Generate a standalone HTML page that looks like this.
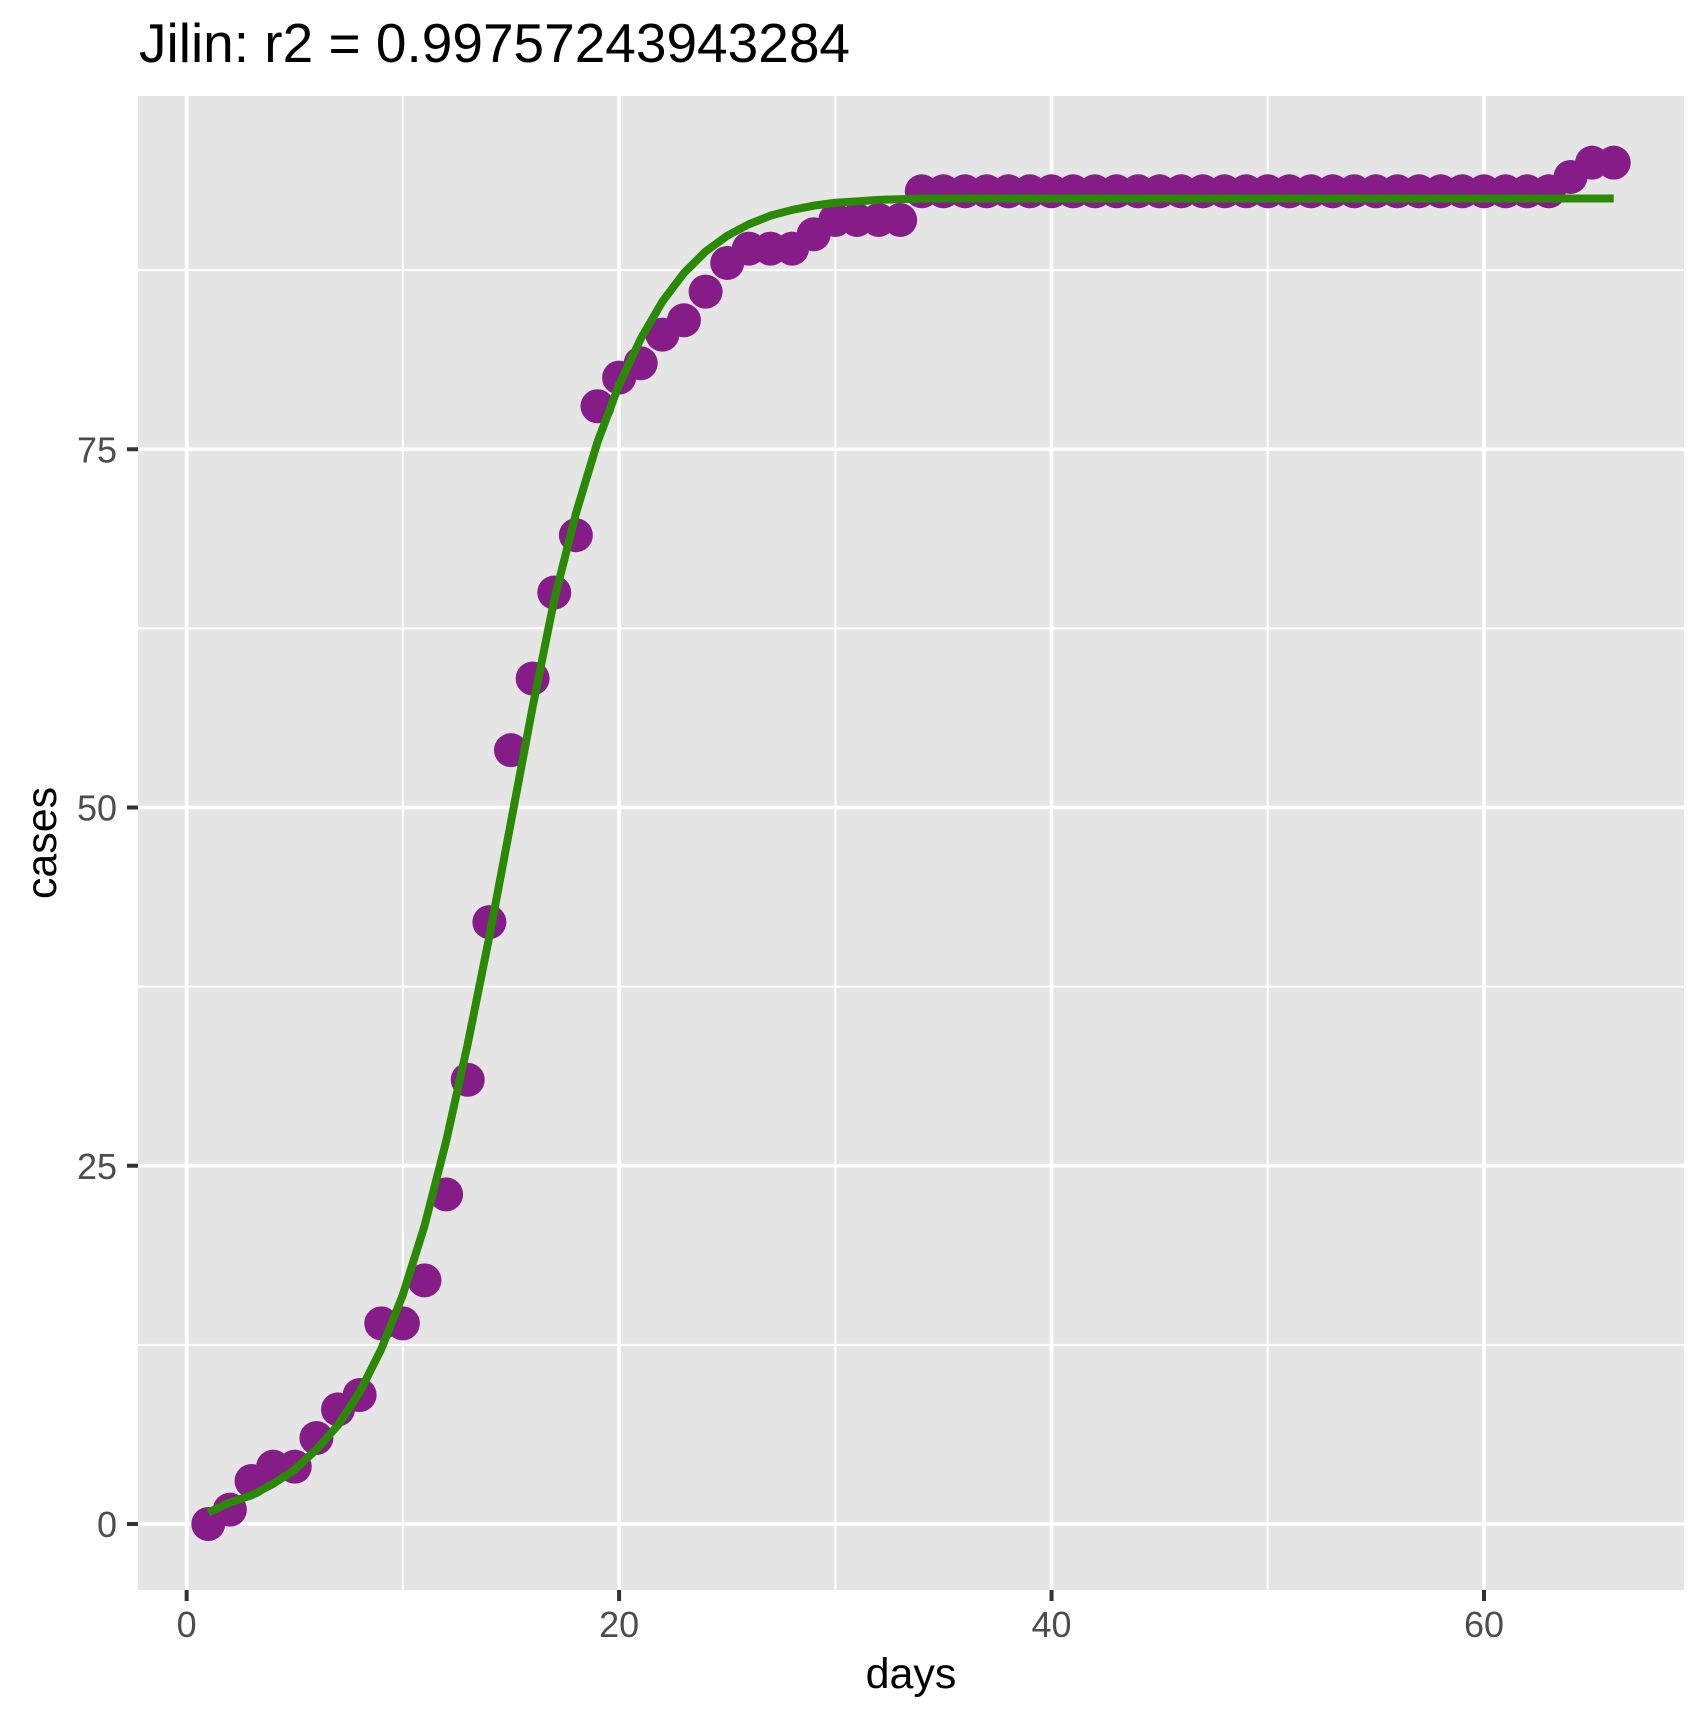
<!DOCTYPE html>
<html><head><meta charset="utf-8"><style>
html,body{margin:0;padding:0;background:#fff;}
svg text{font-family:"Liberation Sans",Arial,sans-serif;}
</style></head><body>
<svg id="chart" width="1699" height="1720" xmlns="http://www.w3.org/2000/svg">
<text x="139" y="62" font-size="55" fill="#000">Jilin: r2 = 0.99757243943284</text>
<rect x="138" y="96" width="1546" height="1494" fill="#e5e5e5"/>
<g id="grid"></g>
<g id="pts"></g>
<g id="axes"></g>
<text x="911" y="1688" font-size="43" text-anchor="middle" fill="#000">days</text>
<text transform="translate(56,843) rotate(-90)" font-size="43" text-anchor="middle" fill="#000">cases</text>
</svg>
<script>
const days = [];
for (let i = 1; i <= 66; i++) days.push(i);
const cases = [0,1,3,4,4,6,8,9,14,14,17,23,31,42,54,59,65,69,78,80,81,83,84,86,88,89,89,89,90,91,91,91,91,
93,93,93,93,93,93,93,93,93,93,93,93,93,93,93,93,93,93,93,93,93,93,93,93,93,93,93,93,93,93,94,95,95];
const fitted = [0.8,1.5,2,2.8,3.8,5.2,6.9,9.2,12.2,16,20.8,26.7,33.5,41,49,57,64.5,70.5,75.5,79.5,82.7,85.3,87.3,88.8,89.9,90.7,91.3,91.7,92,92.2,92.3,92.4,92.45,
92.5,92.5,92.5,92.5,92.5,92.5,92.5,92.5,92.5,92.5,92.5,92.5,92.5,92.5,92.5,92.5,92.5,92.5,92.5,92.5,92.5,92.5,92.5,92.5,92.5,92.5,92.5,92.5,92.5,92.5,92.5,92.5,92.5];
const xTicks = [0,20,40,60];
const xMinor = [10,30,50];
const yTicks = [0,25,50,75];
const yMinor = [12.5,37.5,62.5,87.5];

const NS = "http://www.w3.org/2000/svg";
const PL = 138, PR = 1684, PT = 96, PB = 1590;
const XMIN = -2.25, XMAX = 69.25;
const Y0 = 1524, YPX = 14.33;
const sx = v => PL + (v - XMIN) / (XMAX - XMIN) * (PR - PL);
const sy = v => Y0 - v * YPX;
function mk(tag, attrs, parent) {
  const e = document.createElementNS(NS, tag);
  for (const k in attrs) e.setAttribute(k, attrs[k]);
  parent.appendChild(e);
  return e;
}
const grid = document.getElementById('grid');
xMinor.forEach(v => {
  const l = mk('line', {x1: sx(v), x2: sx(v), y1: PT, y2: PB, stroke: '#fff', 'stroke-width': 2}, grid);
  
  
});
yMinor.forEach(v => {
  const l = mk('line', {x1: PL, x2: PR, y1: sy(v), y2: sy(v), stroke: '#fff', 'stroke-width': 2}, grid);
  
  
});
xTicks.forEach(v => {
  const l = mk('line', {x1: sx(v), x2: sx(v), y1: PT, y2: PB, stroke: '#fff', 'stroke-width': 3.6}, grid);
  
  
});
yTicks.forEach(v => {
  const l = mk('line', {x1: PL, x2: PR, y1: sy(v), y2: sy(v), stroke: '#fff', 'stroke-width': 3.6}, grid);
  
  
});
const pts = document.getElementById('pts');
days.forEach((d, i) => {
  const c = mk('circle', {cx: sx(d), cy: sy(cases[i]), r: 17, fill: '#861c87'}, pts);
  
  
});
const pth = mk('polyline', {points: days.map((d, i) => sx(d) + ',' + sy(fitted[i])).join(' '), fill: 'none', stroke: '#2b8a05', 'stroke-width': 8, 'stroke-linejoin': 'round'}, document.getElementById('chart'));


const axes = document.getElementById('axes');
xTicks.forEach(v => {
  const t = mk('line', {x1: sx(v), x2: sx(v), y1: PB, y2: PB + 11, stroke: '#333', 'stroke-width': 4}, axes);
  
  
  const lb = mk('text', {x: sx(v), y: 1637, 'font-size': 36, 'text-anchor': 'middle', fill: '#4d4d4d'}, axes);
  lb.textContent = v;
  
  
});
yTicks.forEach(v => {
  const t = mk('line', {x1: PL - 11, x2: PL, y1: sy(v), y2: sy(v), stroke: '#333', 'stroke-width': 4}, axes);
  
  
  const lb = mk('text', {x: 117, y: sy(v) + 13, 'font-size': 36, 'text-anchor': 'end', fill: '#4d4d4d'}, axes);
  lb.textContent = v;
  
  
});
</script>
</body></html>
